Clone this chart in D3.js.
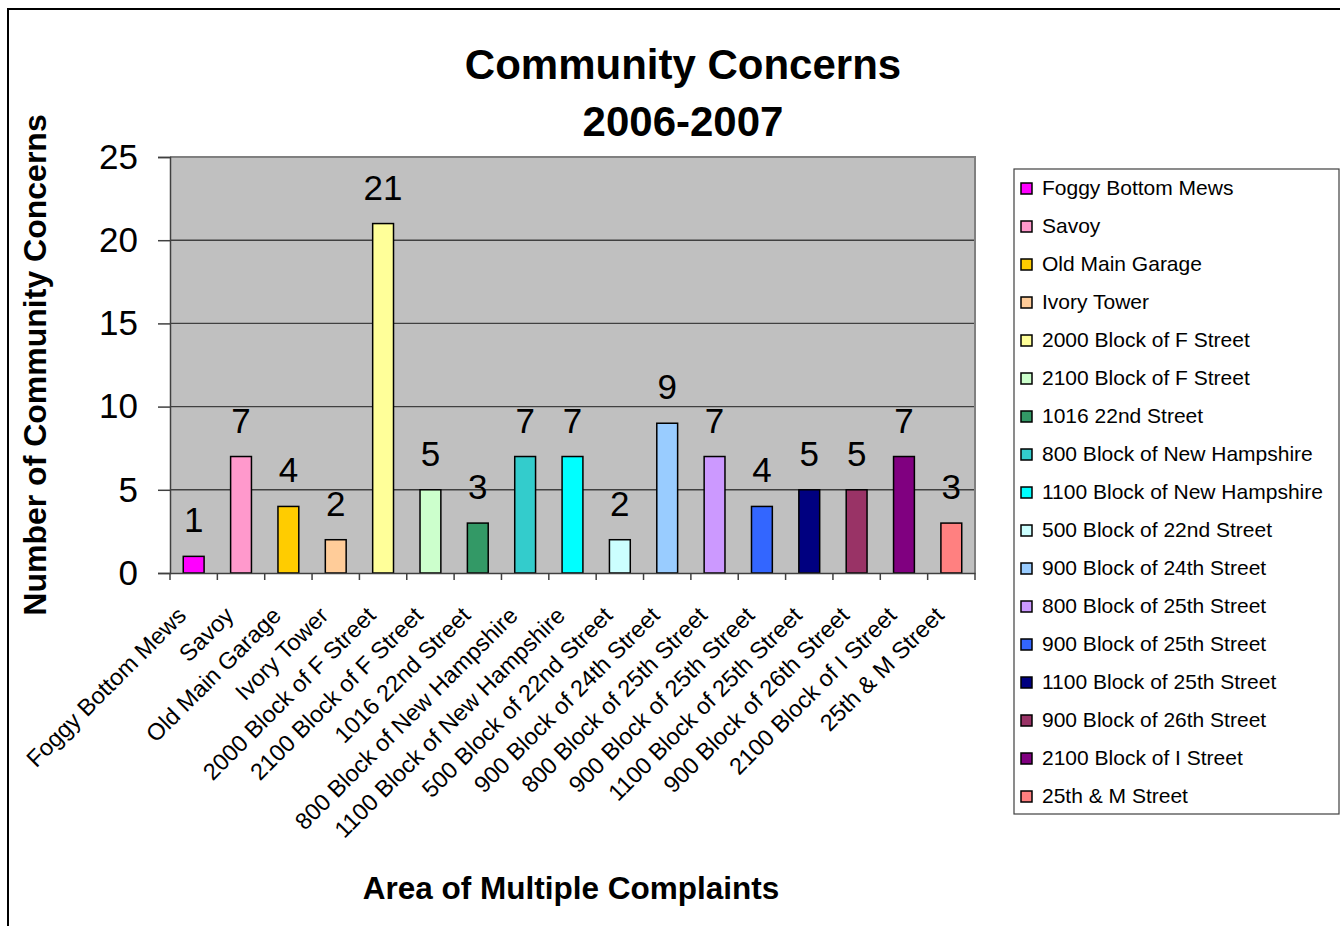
<!DOCTYPE html>
<html><head><meta charset="utf-8">
<script src="https://cdn.jsdelivr.net/npm/d3@7"></script>
<style>
html,body{margin:0;padding:0;background:#fff;}
text{font-family:"Liberation Sans",Arial,sans-serif;fill:#000;}
</style></head>
<body>
<svg id="chart" width="1340" height="926"></svg>
<script>
const categories = ["Foggy Bottom Mews","Savoy","Old Main Garage","Ivory Tower","2000 Block of F Street","2100 Block of F Street","1016 22nd Street","800 Block of New Hampshire","1100 Block of New Hampshire","500 Block of 22nd Street","900 Block of 24th Street","800 Block of 25th Street","900 Block of 25th Street","1100 Block of 25th Street","900 Block of 26th Street","2100 Block of I Street","25th & M Street"];
const values = [1,7,4,2,21,5,3,7,7,2,9,7,4,5,5,7,3];
const colors = ["#FF00FF","#FF99CC","#FFCC00","#FFCC99","#FFFF99","#CCFFCC","#339966","#33CCCC","#00FFFF","#CCFFFF","#99CCFF","#CC99FF","#3366FF","#000080","#993366","#800080","#FF8080"];
const yTicks = [0,5,10,15,20,25];
const titleLines = ["Community Concerns","2006-2007"];
const yTitle = "Number of Community Concerns";
const xTitle = "Area of Multiple Complaints";

const svg = d3.select("#chart");
const plot = {left:170, top:157, right:975, bottom:573};

// outer border
svg.append("rect").attr("x",8).attr("y",9).attr("width",1400).attr("height",1000)
  .attr("fill","none").attr("stroke","#000").attr("stroke-width",2);

const x = d3.scaleBand().domain(categories).range([plot.left, plot.right]).paddingInner(0).paddingOuter(0);
const y = d3.scaleLinear().domain([0,25]).range([plot.bottom, plot.top]);

// plot background
svg.append("rect").attr("x",plot.left).attr("y",plot.top)
  .attr("width",plot.right-plot.left).attr("height",plot.bottom-plot.top)
  .attr("fill","#C0C0C0");

// gridlines
svg.append("g").selectAll("line").data(yTicks.filter(d=>d>0&&d<25)).join("line")
  .attr("x1",plot.left).attr("x2",plot.right)
  .attr("y1",d=>y(d)).attr("y2",d=>y(d))
  .attr("stroke","#404040").attr("stroke-width",1.4);

// plot border top/right
svg.append("path").attr("d",`M${plot.left},${plot.top}H${plot.right}V${plot.bottom}`)
  .attr("fill","none").attr("stroke","#808080").attr("stroke-width",2);

// bars
const bw = x.bandwidth()*0.44;
svg.append("g").selectAll("rect").data(values).join("rect")
  .attr("x",(d,i)=>x(categories[i])+x.bandwidth()/2-bw/2)
  .attr("width",bw)
  .attr("y",d=>y(d))
  .attr("height",d=>y(0)-y(d))
  .attr("fill",(d,i)=>colors[i])
  .attr("stroke","#000").attr("stroke-width",1.5);

// value labels
svg.append("g").selectAll("text").data(values).join("text")
  .attr("x",(d,i)=>x(categories[i])+x.bandwidth()/2)
  .attr("y",d=>y(d)-24)
  .attr("text-anchor","middle")
  .style("font-size","35px")
  .text(d=>d);

// y axis
const yAxis = d3.axisLeft(y).tickValues(yTicks).tickSize(12).tickPadding(20);
const gy = svg.append("g").attr("transform",`translate(${plot.left},0)`).call(yAxis);
gy.select(".domain").attr("stroke","#404040").attr("stroke-width",1.5);
gy.selectAll(".tick line").attr("stroke","#404040").attr("stroke-width",1.5);
gy.selectAll(".tick text").style("font-size","35px").style("font-family","'Liberation Sans',Arial,sans-serif").attr("fill","#000");

// x axis
const xAxis = d3.axisBottom(x).tickSize(0).tickFormat("");
const gx = svg.append("g").attr("transform",`translate(0,${plot.bottom})`).call(xAxis);
gx.select(".domain").attr("stroke","#404040").attr("stroke-width",1.5);
// boundary ticks
const bounds = categories.map(c=>x(c)).concat([plot.right]);
gx.append("g").selectAll("line").data(bounds).join("line")
  .attr("x1",d=>d).attr("x2",d=>d).attr("y1",0).attr("y2",7)
  .attr("stroke","#404040").attr("stroke-width",1.5);
// rotated labels
svg.append("g").selectAll("text").data(categories).join("text")
  .attr("transform",d=>`translate(${x(d)+x.bandwidth()/2-6},617) rotate(-45)`)
  .attr("text-anchor","end")
  .style("font-size","23.5px")
  .text(d=>d);

// titles
svg.append("text").attr("x",683).attr("y",79).attr("text-anchor","middle")
  .style("font-size","42px").style("font-weight","bold").text(titleLines[0]);
svg.append("text").attr("x",683).attr("y",136).attr("text-anchor","middle")
  .style("font-size","42px").style("font-weight","bold").text(titleLines[1]);
svg.append("text").attr("transform","translate(46,365) rotate(-90)").attr("text-anchor","middle")
  .style("font-size","32px").style("font-weight","bold").text(yTitle);
svg.append("text").attr("x",571).attr("y",899).attr("text-anchor","middle")
  .style("font-size","31.5px").style("font-weight","bold").text(xTitle);

// legend
const lg = svg.append("g");
lg.append("rect").attr("x",1014).attr("y",169).attr("width",325).attr("height",645)
  .attr("fill","#fff").attr("stroke","#404040").attr("stroke-width",1.2);
const rows = lg.selectAll("g.row").data(categories).join("g").attr("class","row")
  .attr("transform",(d,i)=>`translate(0,${188+i*38})`);
rows.append("rect").attr("x",1021).attr("y",-5).attr("width",11).attr("height",11)
  .attr("fill",(d,i)=>colors[i]).attr("stroke","#000").attr("stroke-width",1.5);
rows.append("text").attr("x",1042).attr("y",0).attr("dy","0.35em")
  .style("font-size","21px").text(d=>d);
</script>
</body></html>
